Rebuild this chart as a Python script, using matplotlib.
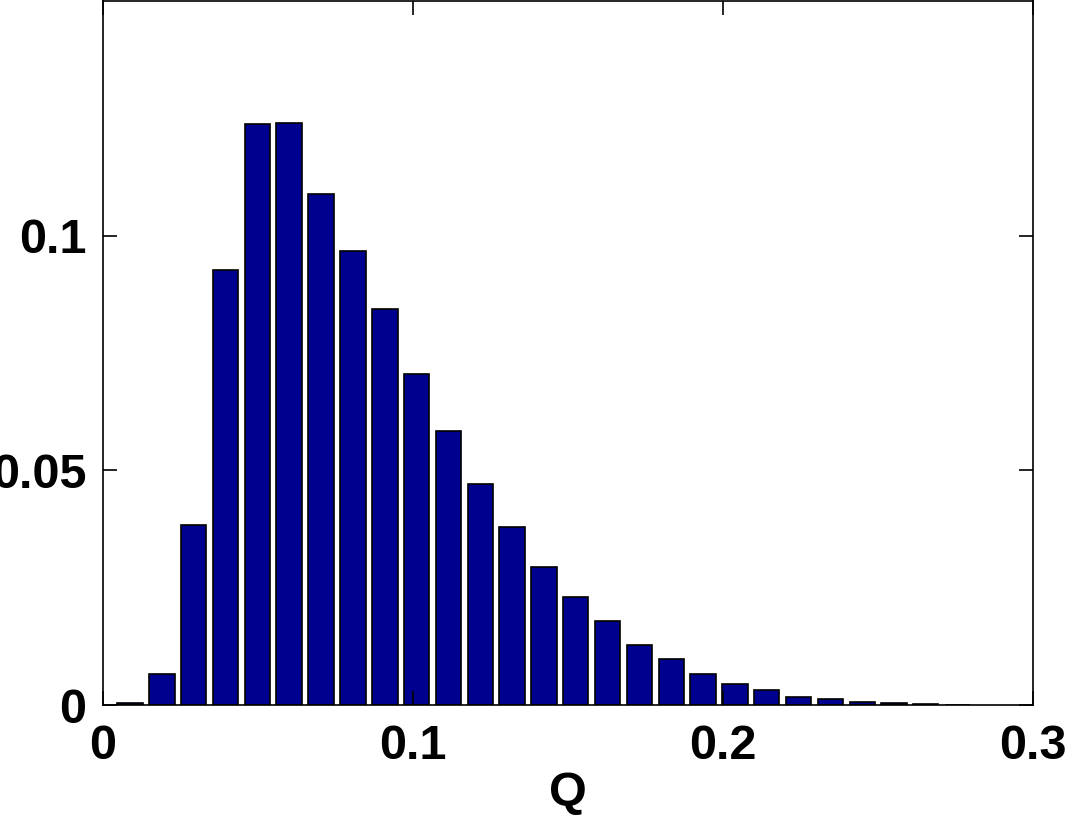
import matplotlib.pyplot as plt

# Bin centres (Q) and normalised counts
q_centres = [0.0087, 0.0190, 0.0292, 0.0395, 0.0498, 0.0600, 0.0703, 0.0806,
             0.0909, 0.1011, 0.1114, 0.1217, 0.1319, 0.1422, 0.1525, 0.1627,
             0.1730, 0.1833, 0.1935, 0.2038, 0.2141, 0.2244, 0.2346, 0.2449,
             0.2552, 0.2654, 0.2757]
freq = [0.0004, 0.0066, 0.0383, 0.0926, 0.1238, 0.1240, 0.1089, 0.0967,
        0.0843, 0.0706, 0.0583, 0.0470, 0.0379, 0.0295, 0.0231, 0.0180,
        0.0128, 0.0097, 0.0066, 0.0044, 0.0031, 0.0018, 0.0012, 0.0006,
        0.0004, 0.0002, 0.0001]

x_ticks = [0, 0.1, 0.2, 0.3]
x_tick_labels = ["0", "0.1", "0.2", "0.3"]
y_ticks = [0, 0.05, 0.1]
y_tick_labels = ["0", "0.05", "0.1"]

plt.rcParams["font.family"] = ["Liberation Sans", "DejaVu Sans"]
plt.rcParams["font.weight"] = "bold"

fig = plt.figure(figsize=(10.65, 8.22), dpi=100)
ax = fig.add_axes([0.0967, 0.1423, 0.8733, 0.8567])

ax.bar(q_centres, freq, width=0.0082, color="#00008F",
       edgecolor="black", linewidth=1.2)

ax.set_xlim(0, 0.3)
ax.set_ylim(0, 0.15)
ax.set_xticks(x_ticks)
ax.set_xticklabels(x_tick_labels)
ax.set_yticks(y_ticks)
ax.set_yticklabels(y_tick_labels)

# MATLAB-style inward ticks on all four sides
ax.tick_params(direction="in", length=10, width=1.2, labelsize=35,
               top=True, right=True)
ax.tick_params(axis="x", pad=14)
ax.tick_params(axis="y", pad=12)
for s in ax.spines.values():
    s.set_linewidth(1.2)

ax.set_xlabel("Q", fontsize=35, fontweight="bold", labelpad=1)

fig.savefig("out.png", dpi=100)
